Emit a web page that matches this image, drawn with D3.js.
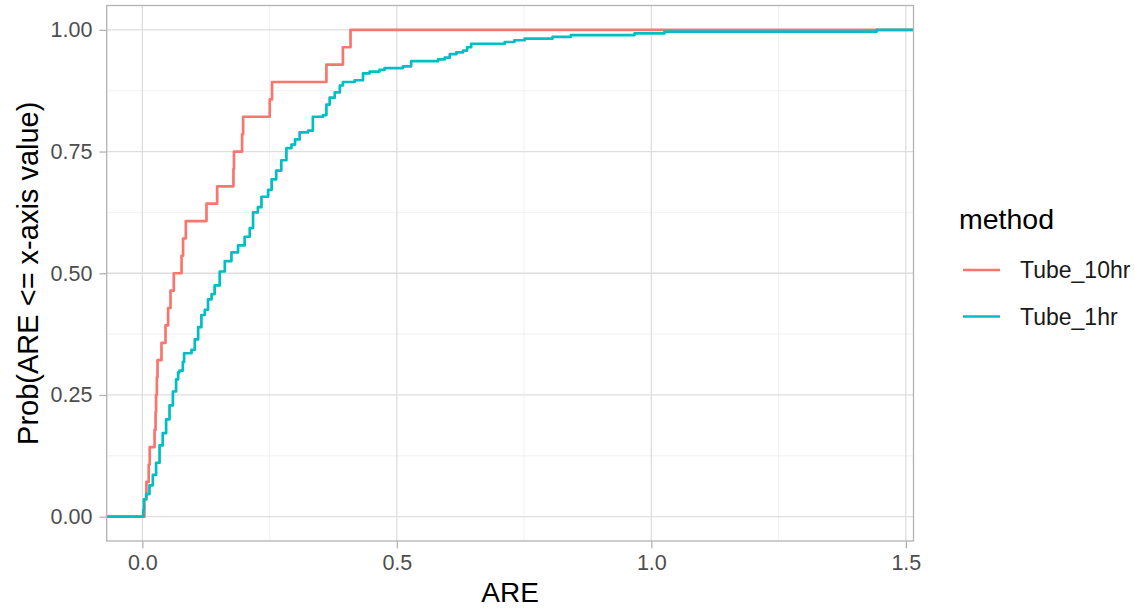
<!DOCTYPE html>
<html>
<head>
<meta charset="utf-8">
<script src="https://cdn.jsdelivr.net/npm/d3@7"></script>
<style>
  html, body { margin: 0; padding: 0; background: #ffffff; }
  svg { display: block; font-family: "Liberation Sans", Arial, sans-serif; }
</style>
</head>
<body>
<svg id="chart" width="1135" height="609"></svg>
<script>
// ---- data -------------------------------------------------------------
const methods = ["Tube_10hr", "Tube_1hr"];
const methodColors = ["#F8766D", "#00BFC4"];

// Tube_10hr: absolute relative error of each of the 28 samples
const tube10hrAre = [
  0.004, 0.008, 0.0125, 0.0145, 0.024, 0.026, 0.027, 0.0285, 0.0298, 0.0376,
  0.0455, 0.0507, 0.0553, 0.0618, 0.077, 0.080, 0.0854, 0.126, 0.147, 0.179,
  0.180, 0.196, 0.198, 0.2503, 0.2548, 0.3616, 0.394, 0.409
];

// Tube_1hr: 280 samples, given as distinct ARE values and the number of
// samples at or below each value
const tube1hrN = 280;
const tube1hrAre = [
  0.002, 0.003, 0.0075, 0.014, 0.0206, 0.027, 0.0338, 0.040, 0.0467, 0.0534,
  0.060, 0.0663, 0.0703, 0.073, 0.0795, 0.082, 0.0966, 0.103, 0.1096, 0.116,
  0.1227, 0.129, 0.136, 0.142, 0.152, 0.162, 0.175, 0.188, 0.201, 0.211,
  0.2175, 0.227, 0.234, 0.247, 0.254, 0.263, 0.273, 0.283, 0.293, 0.300,
  0.309, 0.3255, 0.335, 0.355, 0.3616, 0.368, 0.378, 0.388, 0.394, 0.417,
  0.4335, 0.4466, 0.466, 0.476, 0.512, 0.528, 0.581, 0.594, 0.604, 0.617,
  0.630, 0.638, 0.646, 0.712, 0.731, 0.751, 0.806, 0.842, 0.967, 1.026,
  1.443
];
const tube1hrCount = [
  4, 10, 13, 18, 24, 31, 41, 48, 56, 64,
  72, 79, 83, 84, 89, 94, 96, 102, 109, 116,
  119, 125, 128, 133, 141, 147, 152, 156, 161, 166,
  175, 178, 184, 188, 194, 199, 205, 212, 214, 217,
  221, 222, 230, 231, 237, 241, 244, 248, 250, 251,
  255, 256, 257, 258, 259, 262, 263, 264, 266, 267,
  268, 270, 272, 273, 274, 275, 276, 277, 278, 279,
  280
];

const xTicks = [0, 0.5, 1, 1.5];
const xTickLabels = ["0.0", "0.5", "1.0", "1.5"];
const xMinorTicks = [0.25, 0.75, 1.25];
const yTicks = [0, 0.25, 0.5, 0.75, 1];
const yTickLabels = ["0.00", "0.25", "0.50", "0.75", "1.00"];
const yMinorTicks = [0.125, 0.375, 0.625, 0.875];

// ---- layout -----------------------------------------------------------
const panel = { left: 106.7, right: 913.5, top: 5.5, bottom: 541 };
const fontFamily = "Liberation Sans, Arial, sans-serif";
const svg = d3.select("#chart");

// step points of each empirical CDF
const sorted10 = tube10hrAre.slice().sort(d3.ascending);
const steps10 = sorted10.map((v, i) => [v, (i + 1) / sorted10.length]);
const steps1 = tube1hrAre.map((v, i) => [v, tube1hrCount[i] / tube1hrN]);

// x range from the data, widened by 5% on both sides
const allX = tube10hrAre.concat(tube1hrAre);
const xLo = d3.min(allX), xHi = d3.max(allX);
const xPad = 0.05 * (xHi - xLo);
const x = d3.scaleLinear()
  .domain([xLo - xPad, xHi + xPad])
  .range([panel.left, panel.right]);
const y = d3.scaleLinear()
  .domain([-0.05, 1.05])
  .range([panel.bottom, panel.top]);

// ---- grid -------------------------------------------------------------
const grid = svg.append("g");
grid.selectAll(".ymin").data(yMinorTicks).join("line")
  .attr("x1", panel.left).attr("x2", panel.right)
  .attr("y1", d => y(d)).attr("y2", d => y(d))
  .attr("stroke", "#EDEDED").attr("stroke-width", 0.8);
grid.selectAll(".xmin").data(xMinorTicks).join("line")
  .attr("y1", panel.top).attr("y2", panel.bottom)
  .attr("x1", d => x(d)).attr("x2", d => x(d))
  .attr("stroke", "#EDEDED").attr("stroke-width", 0.8);
grid.selectAll(".ymaj").data(yTicks).join("line")
  .attr("x1", panel.left).attr("x2", panel.right)
  .attr("y1", d => y(d)).attr("y2", d => y(d))
  .attr("stroke", "#DEDEDE").attr("stroke-width", 1.3);
grid.selectAll(".xmaj").data(xTicks).join("line")
  .attr("y1", panel.top).attr("y2", panel.bottom)
  .attr("x1", d => x(d)).attr("x2", d => x(d))
  .attr("stroke", "#DEDEDE").attr("stroke-width", 1.3);

// ---- ECDF lines -------------------------------------------------------
const line = d3.line()
  .x(d => x(d[0]))
  .y(d => y(d[1]))
  .curve(d3.curveStepAfter);

const xLeft = x.domain()[0], xRight = x.domain()[1];
const series = [
  [[xLeft, 0]].concat(steps10, [[xRight, 1]]),
  [[xLeft, 0]].concat(steps1, [[xRight, 1]])
];

svg.append("g").selectAll("path").data(series).join("path")
  .attr("d", line)
  .attr("fill", "none")
  .attr("stroke", (d, i) => methodColors[i])
  .attr("stroke-width", 2.7)
  .attr("stroke-linejoin", "round");

// ---- panel border -----------------------------------------------------
svg.append("rect")
  .attr("x", panel.left).attr("y", panel.top)
  .attr("width", panel.right - panel.left)
  .attr("height", panel.bottom - panel.top)
  .attr("fill", "none").attr("stroke", "#B3B3B3").attr("stroke-width", 1.3);

// ---- axes -------------------------------------------------------------
const xAxis = d3.axisBottom(x)
  .tickValues(xTicks)
  .tickFormat((d, i) => xTickLabels[i])
  .tickSize(7.3).tickPadding(6);
const gx = svg.append("g")
  .attr("transform", `translate(0,${panel.bottom})`)
  .call(xAxis);
gx.select(".domain").remove();
gx.selectAll(".tick line").attr("stroke", "#B3B3B3").attr("stroke-width", 1.3);
gx.selectAll(".tick text")
  .attr("fill", "#4D4D4D").attr("font-size", 21.5)
  .attr("font-family", fontFamily);

const yAxis = d3.axisLeft(y)
  .tickValues(yTicks)
  .tickFormat((d, i) => yTickLabels[i])
  .tickSize(7.3).tickPadding(7);
const gy = svg.append("g")
  .attr("transform", `translate(${panel.left},0)`)
  .call(yAxis);
gy.select(".domain").remove();
gy.selectAll(".tick line").attr("stroke", "#B3B3B3").attr("stroke-width", 1.3);
gy.selectAll(".tick text")
  .attr("fill", "#4D4D4D").attr("font-size", 21.5)
  .attr("font-family", fontFamily);

// axis titles
svg.append("text")
  .attr("x", (panel.left + panel.right) / 2).attr("y", 602)
  .attr("text-anchor", "middle")
  .attr("font-size", 28).attr("fill", "#000")
  .text("ARE");
svg.append("text")
  .attr("transform", `translate(38,${(panel.top + panel.bottom) / 2}) rotate(-90)`)
  .attr("text-anchor", "middle")
  .attr("font-size", 29).attr("fill", "#000")
  .text("Prob(ARE <= x-axis value)");

// ---- legend -----------------------------------------------------------
const legend = svg.append("g");
legend.append("text")
  .attr("x", 959).attr("y", 229)
  .attr("font-size", 28.5).attr("fill", "#000")
  .text("method");
const keys = legend.selectAll("g.key").data(methods).join("g")
  .attr("transform", (d, i) => `translate(0,${270 + i * 46.5})`);
keys.append("line")
  .attr("x1", 963).attr("x2", 1000)
  .attr("y1", 0).attr("y2", 0)
  .attr("stroke", (d, i) => methodColors[i])
  .attr("stroke-width", 2.7);
keys.append("text")
  .attr("x", 1020).attr("y", 8)
  .attr("font-size", 23).attr("fill", "#1A1A1A")
  .text(d => d);
</script>
</body>
</html>
